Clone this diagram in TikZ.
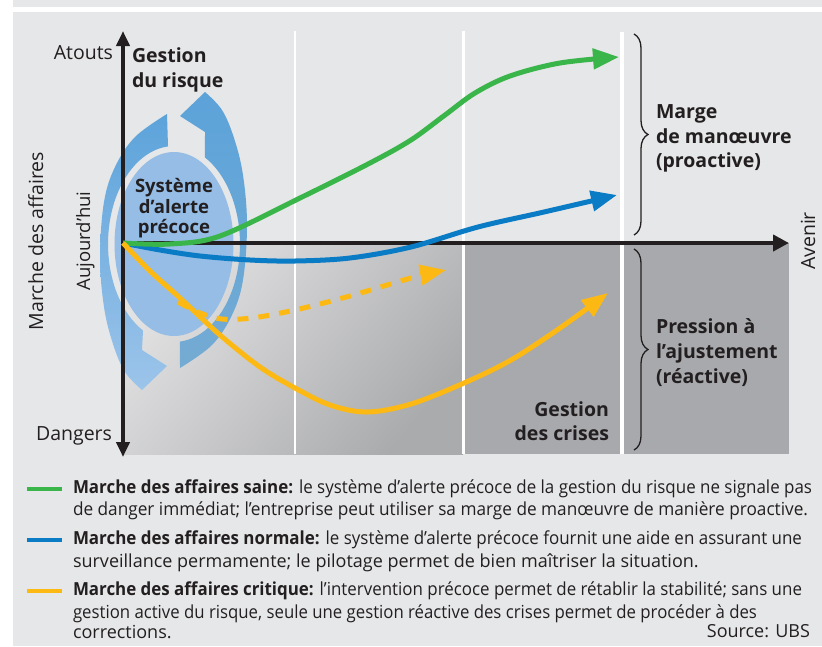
\documentclass[tikz,border=0pt]{standalone}
\usepackage{fontspec}
\usepackage{graphicx}
\setmainfont{Open Sans}
\usetikzlibrary{arrows.meta,decorations.pathreplacing}

\definecolor{panel}{HTML}{E6E7E8}
\definecolor{ink}{HTML}{231F20}
\definecolor{gGreen}{HTML}{3AB54A}
\definecolor{gBlue}{HTML}{0A7BC5}
\definecolor{gYellow}{HTML}{FDB913}
\definecolor{ringA}{HTML}{5CA3DA}
\definecolor{ringB}{HTML}{74ABD3}
\definecolor{ringC}{HTML}{9CC4EA}
\definecolor{core}{HTML}{95BDE6}
\definecolor{zoneL}{HTML}{E2E2E3}
\definecolor{zoneM}{HTML}{AAABAD}
\definecolor{zoneD}{HTML}{A7A9AC}

% set a line of text to an exact width: squeeze it when too long,
% otherwise spread the word spaces
\newsavebox\fitbox
\newcommand{\fitto}[2]{\sbox\fitbox{#2}%
  \ifdim\wd\fitbox>#1\relax\resizebox{#1}{\height}{\usebox\fitbox}%
  \else\hbox to #1{#2}\fi}

\begin{document}
\begin{tikzpicture}[x=1pt,y=-1pt,
  every node/.style={inner sep=0pt, outer sep=0pt, text=ink},
  heading/.style={font=\fontsize{19.5}{23}\selectfont\bfseries},
  coretext/.style={font=\fontsize{18.5}{21}\selectfont\bfseries, anchor=base},
  axislabel/.style={font=\fontsize{19.5}{23}\selectfont},
  legendtext/.style={font=\fontsize{18}{22}\selectfont, anchor=base west},
  curve/.style={line width=5pt, -{Triangle[length=26pt,width=20pt]}},
  axisline/.style={line width=4.5pt, draw=ink},
  divider/.style={draw=white},
  keyline/.style={line width=4pt},
  bracket/.style={draw=ink, line width=1.3pt, decorate, decoration={brace, amplitude=14pt}},
]
\useasboundingbox (0,0) rectangle (822,646);
\fill[white] (0,0) rectangle (822,646);

% panels
\fill[panel] (13,0) rectangle (822,7);
\fill[panel] (13,12) rectangle (822,646);

% lower zone (below the time axis)
\shade[top color=zoneL, bottom color=zoneM, shading angle=50] (123,243) rectangle (463,454);
\fill[zoneD] (463,243) rectangle (789,454);

% white column dividers
\draw[divider, line width=2.5pt] (295,31) -- (295,454);
\draw[divider, line width=3pt] (463,31) -- (463,454);
\draw[divider, line width=4.5pt] (622,32) -- (622,454);

% cycle arrows round the early warning core
% (inner edges follow the core ellipse widened by a small gap)
\shade[top color=ringA, bottom color=ringB]
  plot[domain=84.8:-62, samples=40] ({174+66*cos(\x)},{244+98*sin(\x)})
  -- (205,132) -- (180,116)
  -- plot[smooth, tension=0.6] coordinates {(205,92) (222,110) (234,138) (243,175) (247,225) (243,280) (232,315) (212,345) (180,368)}
  -- cycle;
\shade[top color=ringA, bottom color=ringC]
  plot[domain=-95.2:-242, samples=40] ({174+66*cos(\x)},{244+98*sin(\x)})
  -- (142,350) -- (167,366)
  -- plot[smooth, tension=0.6] coordinates {(142,390) (125,372) (113,344) (104,307) (100,257) (104,202) (115,167) (135,137) (167,114)}
  -- cycle;
\fill[core] (174,244) ellipse [x radius=59.5, y radius=92];

% axes
\coordinate (O) at (123,243);
\coordinate (top) at (123,31);
\coordinate (bottom) at (123,457);
\coordinate (future) at (789,243);
\draw[axisline, {Triangle[length=15pt,width=13pt]}-{Triangle[length=15pt,width=13pt]}] (bottom) -- (top);
\draw[axisline, -{Triangle[length=16pt,width=16pt]}] (O) -- (future);

% business paths
\draw[curve, gBlue] plot[smooth, tension=0.55] coordinates {(123,243) (160,250) (200,256) (250,260) (295,261) (350,258) (411,247) (478,227) (544,212) (617,195)};
\draw[curve, gGreen] plot[smooth, tension=0.55] coordinates {(123,243) (170,244) (220,236) (300,198) (370,163) (411,140) (445,115) (475,93) (510,76) (560,63) (619,57)};
\draw[curve, gYellow, dash pattern=on 11pt off 10pt] plot[smooth, tension=0.55] coordinates {(178,302) (200,313) (222,319) (252,318) (295,310) (350,296) (411,278) (446,270)};
\draw[curve, gYellow] plot[smooth, tension=0.55] coordinates {(123,243) (150,271) (180,298) (220,335) (260,367) (295,388) (330,405) (367,412) (411,404) (464,383) (511,360) (560,328) (608,293)};

% braces
\coordinate (b1a) at (634,34);
\coordinate (b1b) at (634,235);
\coordinate (b2a) at (634,249);
\coordinate (b2b) at (634,450);
\draw[bracket] (b1a) -- (b1b);
\draw[bracket] (b2a) -- (b2b);

% axis labels
\node[axislabel, anchor=base east] (atouts) at (113,59) {Atouts};
\node[axislabel, anchor=base east] (dangers) at (112,440) {Dangers};
\node[axislabel, rotate=90, anchor=base] (marche) at (43,241) {Marche des affaires};
\node[font=\fontsize{18.5}{22}\selectfont, rotate=90, anchor=base] (today) at (90,241) {Aujourd’hui};
\node[axislabel, rotate=90, anchor=base] (avenir) at (815,241) {Avenir};

% zone headings
\node[heading, anchor=base west] (risk1) at (132,62) {Gestion};
\node[heading, anchor=base west] (risk2) at (132,87) {du risque};
\node[coretext] (core1) at (174,192) {Système};
\node[coretext] (core2) at (174,213) {d’alerte};
\node[coretext] (core3) at (174,233) {précoce};
\node[heading, anchor=base west] (marge1) at (656,118) {Marge};
\node[heading, anchor=base west] (marge2) at (656,143) {de manœuvre};
\node[heading, anchor=base west] (marge3) at (656,167) {(proactive)};
\node[heading, anchor=base west] (press1) at (656,333) {Pression à};
\node[heading, anchor=base west] (press2) at (656,358) {l’ajustement};
\node[heading, anchor=base west] (press3) at (656,383) {(réactive)};
\node[heading, anchor=base east] (crise1) at (609,416) {Gestion};
\node[heading, anchor=base east] (crise2) at (609,440) {des crises};

% legend
\coordinate (kg1) at (27,488.5); \coordinate (kg2) at (62,488.5);
\coordinate (kb1) at (27,540); \coordinate (kb2) at (62,540);
\coordinate (ky1) at (27,590.5); \coordinate (ky2) at (62,590.5);
\draw[keyline, gGreen] (kg1) -- (kg2);
\draw[keyline, gBlue] (kb1) -- (kb2);
\draw[keyline, gYellow] (ky1) -- (ky2);
\node[legendtext] (leg1) at (73,493) {\fitto{739pt}{\textbf{Marche des affaires saine:} le système d’alerte précoce de la gestion du risque ne signale pas}};
\node[legendtext] (leg2) at (73,515) {\fitto{735pt}{de danger immédiat; l’entreprise peut utiliser sa marge de manœuvre de manière proactive.}};
\node[legendtext] (leg3) at (73,544) {\fitto{729pt}{\textbf{Marche des affaires normale:} le système d’alerte précoce fournit une aide en assurant une}};
\node[legendtext] (leg4) at (73,567) {surveillance permamente; le pilotage permet de bien maîtriser la situation.};
\node[legendtext] (leg5) at (73,595) {\fitto{729pt}{\textbf{Marche des affaires critique:} l’intervention précoce permet de rétablir la stabilité; sans une}};
\node[legendtext] (leg6) at (73,618) {\fitto{684pt}{gestion active du risque, seule une gestion réactive des crises permet de procéder à des}};
\node[legendtext] (leg7) at (73,638) {corrections.};
\node[legendtext, anchor=base east] (source) at (810,637) {Source: UBS};
\end{tikzpicture}
\end{document}
